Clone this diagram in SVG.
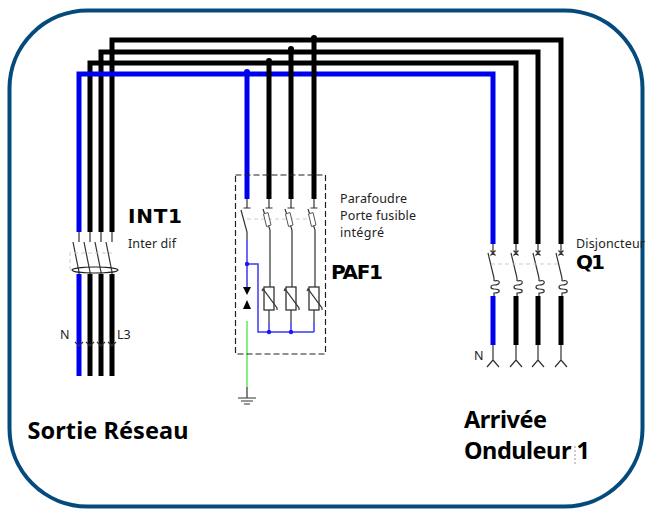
<svg xmlns="http://www.w3.org/2000/svg" width="646" height="510" viewBox="0 0 646 510">
<style>
.bk{fill:none;stroke:#000;stroke-width:5}
.bl{fill:none;stroke:#0000f0;stroke-width:5}
.th{fill:none;stroke:#333;stroke-width:1.2}
.gd{fill:none;stroke:#ccc;stroke-width:1;stroke-dasharray:4 3}
.tb{fill:none;stroke:#3a3af0;stroke-width:1.5}
text{font-family:"Noto Sans",sans-serif;fill:#222}
.b{font-weight:bold;fill:#000;font-size:23.500px}
.h{font-family:"DejaVu Sans",sans-serif;font-weight:bold;fill:#000;font-size:20px}
.s{font-size:12.500px}
</style>
<defs>
<g id="fuse"><path class="th" d="M-6-12 1 9V16"/><path d="M-5.500-7-1-8.500 2 4-2.500 5.500Z" fill="#fff" stroke="#555"/></g>
<g id="var"><rect x="-5" y="0" width="10" height="23" fill="#fff" stroke="#333" stroke-width="1.3"/><path class="th" d="M-7 4-6 2 8 21 8 23"/></g>
<g id="qs"><path class="th" d="M0 244V255M-2.500 250.500 2.500 255.500M2.500 250.500-2.500 255.500M-5 253 1 278M1 278V281"/><path class="th" d="M1 281 C8 279 8 285 1 285 C-3 285-3 289 1 289 C8 289 8 293 1 293V296"/><path class="th" d="M0 345V360M0 360-6 367M0 360 6 367"/></g>
<g id="is"><path class="th" d="M0 232V242M-6 242 0 272V274"/><path class="th" d="M-4 342 0 346 4 342"/></g>
</defs>
<rect id="frame" x="9.500" y="10.500" width="633" height="496" rx="78" fill="#fff" stroke="#044a7c" stroke-width="4"/>
<g id="connectors">
<path class="bk" d="M112 232V40H561V244M101 232V52H538V244M90 232V63H516V244"/>
<path class="bl" d="M79 232V74H493V244M247 74V199"/>
<path class="bk" d="M269 199V62M291 199V50M314 199V39"/>
<circle cx="269" cy="61" r="3"/><circle cx="291" cy="49" r="3"/><circle cx="314" cy="38" r="3"/><circle cx="247" cy="72" r="3" fill="#0000f0"/>
<path class="bl" d="M79 274V376"/><path class="bk" d="M90 274V376M101 274V376M112 274V376"/>
<path class="bl" d="M493 296V345"/><path class="bk" d="M516 296V345M538 296V345M561 296V345"/>
<path d="M247 321V387" fill="none" stroke="#3fe83f" stroke-width="1.300"/>
</g>
<g id="INT1">
<use href="#is" x="79"/><use href="#is" x="90"/><use href="#is" x="101"/><use href="#is" x="112"/>
<path class="gd" d="M70 270V253H112"/>
<ellipse cx="95" cy="270" rx="23" ry="3" fill="none" stroke="#222" stroke-width="1.200"/>
<text x="128" y="223" class="h" textLength="54">INT1</text>
<text x="128" y="248" class="s" textLength="48">Inter dif</text>
<text x="60" y="339" class="s">N</text><text x="117" y="339" class="s">L3</text>
</g>
<g id="PAF1">
<rect x="235.500" y="175" width="90" height="179" fill="none" stroke="#222" stroke-width="1.200" stroke-dasharray="6 3"/>
<path class="gd" d="M247 219H314"/>
<path class="th" d="M243.500 208H250.500M247 199V208M241 210 247 232V240"/>
<path class="th" d="M265.500 208H272.500M287.500 208H294.500M310.500 208H317.500M269 199V208M291 199V208M314 199V208"/>
<use href="#fuse" x="269" y="221"/><use href="#fuse" x="291" y="221"/><use href="#fuse" x="314" y="221"/>
<path class="th" d="M270 237V287M292 237V287M315 237V287"/>
<use href="#var" x="269" y="287"/><use href="#var" x="291" y="287"/><use href="#var" x="314" y="287"/>
<path class="th" d="M269 310V322M291 310V322M314 310V322"/>
<path class="tb" d="M247 240V287M247 264H258V332H314M269 322V332M291 322V332M314 322V332"/>
<circle cx="247" cy="264" r="2.200" fill="#1a1af0"/><circle cx="269" cy="332" r="2.200" fill="#1a1af0"/><circle cx="291" cy="332" r="2.200" fill="#1a1af0"/>
<path d="M243 287H251L247 295ZM247 300 251 309H243Z" fill="#000"/>
<path class="th" d="M247 387V398M238 398H256M241 401H253M244 404H250"/>
<text x="340" y="203" class="s" textLength="67">Parafoudre</text>
<text x="340" y="220" class="s" textLength="76">Porte fusible</text>
<text x="340" y="237" class="s" textLength="44">intégré</text>
<text x="331" y="279" class="h" textLength="52">PAF1</text>
</g>
<g id="Q1">
<use href="#qs" x="493"/><use href="#qs" x="516"/><use href="#qs" x="538"/><use href="#qs" x="561"/>
<path class="gd" d="M491 264H560"/>
<text x="576" y="248" class="s" textLength="69">Disjoncteur</text>
<text x="576" y="269" class="h" textLength="29">Q1</text>
<text x="474" y="360" class="s">N</text>
</g>
<g id="labels">
<text x="27.500" y="439" class="b" textLength="161">Sortie Réseau</text>
<text x="464" y="428" class="b" textLength="83">Arrivée</text>
<text x="464" y="459" class="b" textLength="126">Onduleur 1</text>
<path d="M575 446V464" stroke="#999" stroke-width="1" stroke-dasharray="2 2"/>
</g>
</svg>
